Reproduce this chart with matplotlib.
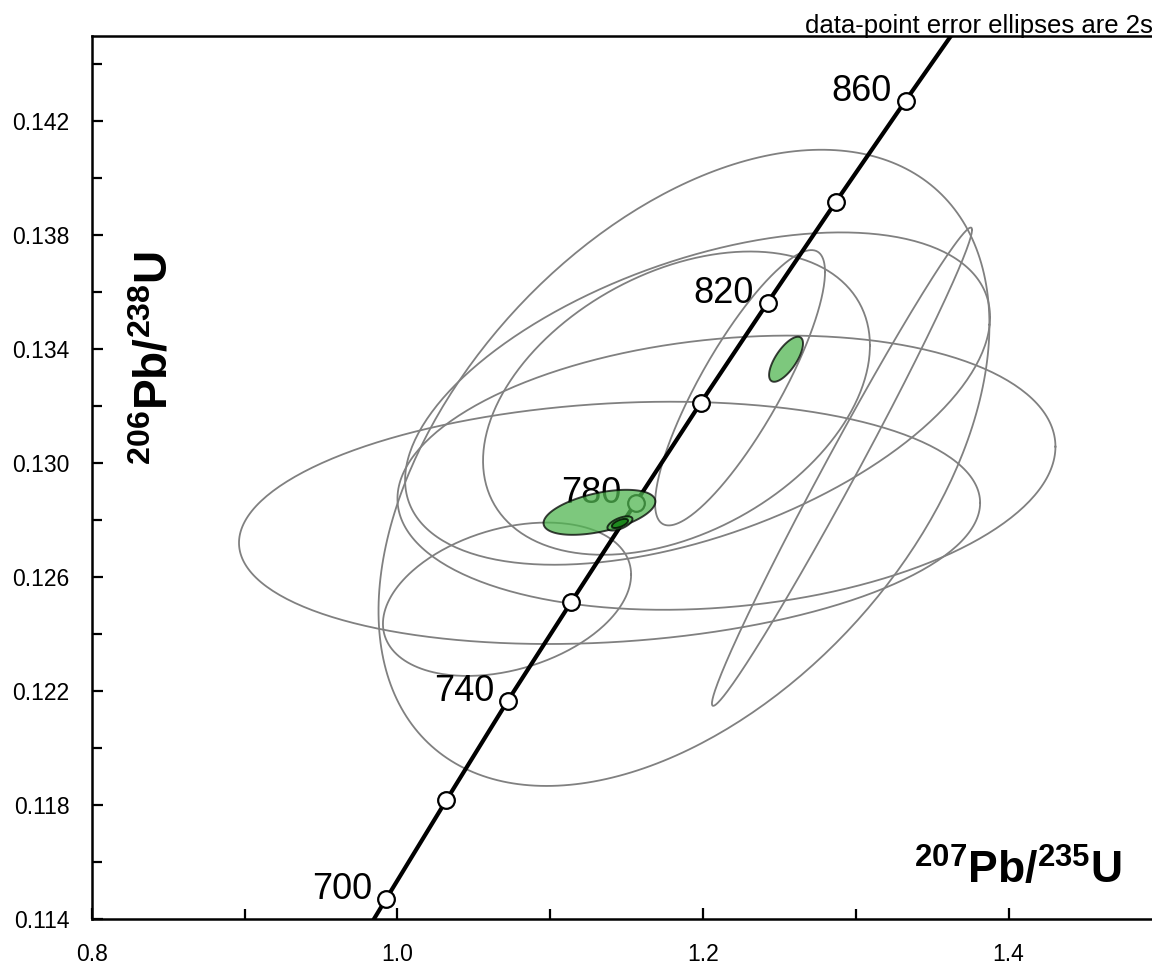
'''
Concordia diagram: 206Pb/238U vs 207Pb/235U with 2s data-point error ellipses.
'''
import numpy as np
import matplotlib
matplotlib.use("Agg")
import matplotlib.pyplot as plt
from matplotlib.ticker import FixedLocator

plt.rcParams['font.family'] = ['Liberation Sans', 'DejaVu Sans']
plt.rcParams['mathtext.fontset'] = 'custom'
plt.rcParams['mathtext.bf'] = 'Liberation Sans:bold'
plt.rcParams['mathtext.rm'] = 'Liberation Sans'

''' Axis ticks. '''
x_ticks = [0.8, 1.0, 1.2, 1.4]
x_minor = [0.9, 1.1, 1.3, 1.5]
y_ticks = [0.114, 0.118, 0.122, 0.126, 0.130, 0.134, 0.138, 0.142]
y_minor = [0.116, 0.120, 0.124, 0.128, 0.132, 0.136, 0.140, 0.144]

''' Concordia curve (ages in Ma, ratios read off the plot). '''
conc_age = [680, 700, 720, 740, 760, 780, 800, 820, 840, 860, 880]
conc_x = [0.9535, 0.9925, 1.0321, 1.0723, 1.1137, 1.1559, 1.1987, 1.2424, 1.2871, 1.3326, 1.3790]
conc_y = [0.11125, 0.11470, 0.11818, 0.12167, 0.12512, 0.12861, 0.13213, 0.13564, 0.13918, 0.14272, 0.14627]
marked_ages = [700, 720, 740, 760, 780, 800, 820, 840, 860]
labelled_ages = [700, 740, 780, 820, 860]

''' Grey error ellipses: centre, 2s half-widths and error correlation. '''
grey_x = [1.1389, 1.2154, 1.1876, 1.1965, 1.1827, 1.2243, 1.2910, 1.0718]
grey_y = [0.12791, 0.12967, 0.12984, 0.13227, 0.13211, 0.13265, 0.12988, 0.12523]
grey_sx = [0.2425, 0.2153, 0.1999, 0.1914, 0.1266, 0.0556, 0.0851, 0.0812]
grey_sy = [0.00425, 0.00481, 0.01116, 0.00583, 0.00532, 0.00483, 0.00839, 0.00269]
grey_rho = [0.165, 0.19, 0.45, 0.49, 0.38, 0.84, 0.99, 0.32]

''' Green (selected) error ellipses. '''
green_x = [1.1323, 1.2544, 1.1457, 1.1457]
green_y = [0.12828, 0.13365, 0.12789, 0.12789]
green_sx = [0.0366, 0.0111, 0.0082, 0.0053]
green_sy = [0.00079, 0.00079, 0.00025, 0.00016]
green_rho = [0.48, 0.70, 0.60, 0.60]
green_fc = ['#51b651', '#51b651', '#51b651', '#0b7a0b']


def ellipse_xy(cx, cy, sx, sy, rho, n=300):
    t = np.linspace(0, 2 * np.pi, n)
    x = cx + sx * np.cos(t)
    y = cy + sy * (rho * np.cos(t) + np.sqrt(1 - rho ** 2) * np.sin(t))
    return x, y


fig = plt.figure(figsize=(11.52, 9.66), dpi=100)
ax = fig.add_axes([0.0796, 0.0483, 0.9285, 0.9147])
ax.set_xlim(0.8, 1.5)
ax.set_ylim(0.114, 0.145)

for cx, cy, sx, sy, r in zip(grey_x, grey_y, grey_sx, grey_sy, grey_rho):
    ex, ey = ellipse_xy(cx, cy, sx, sy, r)
    ax.plot(ex, ey, color='#808080', lw=1.3, zorder=2)

ax.plot(conc_x, conc_y, color='black', lw=3, zorder=3, solid_capstyle='butt')
mx = [x for a, x in zip(conc_age, conc_x) if a in marked_ages]
my = [y for a, y in zip(conc_age, conc_y) if a in marked_ages]
ax.plot(mx, my, 'o', ms=12, mfc='white', mec='black', mew=1.6, zorder=4)
for a, x, y in zip(conc_age, conc_x, conc_y):
    if a in labelled_ages:
        ax.annotate(str(a), (x, y), xytext=(-10, 0), textcoords='offset points',
                    ha='right', va='baseline', fontsize=26, zorder=5)

for cx, cy, sx, sy, r, fc in zip(green_x, green_y, green_sx, green_sy, green_rho, green_fc):
    ex, ey = ellipse_xy(cx, cy, sx, sy, r)
    ax.fill(ex, ey, facecolor=fc, edgecolor='black', lw=1.4, alpha=0.75, zorder=6)

ax.xaxis.set_major_locator(FixedLocator(x_ticks))
ax.xaxis.set_minor_locator(FixedLocator(x_minor))
ax.yaxis.set_major_locator(FixedLocator(y_ticks))
ax.yaxis.set_minor_locator(FixedLocator(y_minor))
ax.set_xticklabels(['%.1f' % v for v in x_ticks])
ax.set_yticklabels(['%.3f' % v for v in y_ticks])
ax.tick_params(which='both', direction='in', width=1.6, labelsize=16.5)
ax.tick_params(which='major', length=8)
ax.tick_params(which='minor', length=7)
ax.tick_params(axis='x', pad=17)
ax.tick_params(axis='y', pad=16)
for s in ax.spines.values():
    s.set_linewidth(1.8)

ax.text(1.338, 0.11524, r'$^{\mathbf{207}}$Pb/$^{\mathbf{235}}$U', fontsize=32,
        fontweight='bold', ha='left', va='baseline', zorder=7)
fig.text(156 / 1152, 1 - 358 / 966, r'$^{\mathbf{206}}$Pb/$^{\mathbf{238}}$U', fontsize=33,
         fontweight='bold', rotation=90, ha='center', va='center')
fig.text(805 / 1152, 1 - 33 / 966, 'data-point error ellipses are 2s', fontsize=18.5,
         ha='left', va='baseline')

fig.savefig('out.png', dpi=100)
